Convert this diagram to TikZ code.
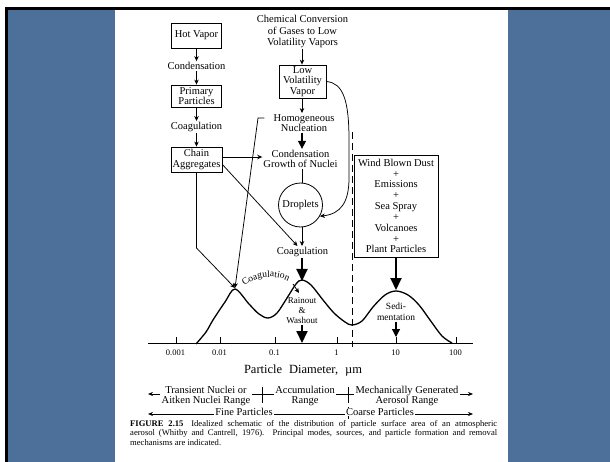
\documentclass[tikz,border=0pt]{standalone}
\usepackage{fontspec}
\setmainfont{Liberation Serif}
\usetikzlibrary{arrows.meta,decorations.text}
\definecolor{slideblue}{RGB}{76,112,153}
\newcommand{\fsz}[2]{\fontsize{#1}{#2}\selectfont}
\begin{document}
\begin{tikzpicture}[x=1pt,y=-1pt,
 lbl/.style={font=\fsz{10.5}{10.5}, align=center, inner sep=1pt},
 bx/.style={draw, line width=0.8pt, font=\fsz{10.5}{10.5}, align=center, inner sep=0pt},
 tarr/.style={line width=0.75pt, -{Stealth[length=5pt,width=4.5pt]}},
 marr/.style={line width=1.2pt, -{Triangle[length=8pt,width=8pt]}},
 barr/.style={line width=2pt, -{Triangle[length=12pt,width=11pt]}},
 plainln/.style={line width=0.75pt},
 rng/.style={font=\fsz{10.5}{9.8}, align=center, fill=white, inner xsep=1.5pt, inner ysep=0pt},
]
% background
\fill[white] (0,0) rectangle (610,462);
\fill[slideblue] (8,10) rectangle (610,462);
\fill[black] (5,7) rectangle (610,10);
\fill[black] (5,7) rectangle (8,462);
\fill[white] (115,10) rectangle (508,462);
\useasboundingbox (0,0) rectangle (610,462);

% left column
\node[bx, minimum width=50pt, minimum height=25pt] (hot) at (196.5,35.5) {Hot Vapor};
\node[lbl] (cond1) at (196.5,66) {Condensation};
\node[bx, minimum width=50pt, minimum height=22pt] (prim) at (196.5,96) {Primary\\Particles};
\node[lbl] (coag1) at (196.5,127) {Coagulation};
\node[bx, minimum width=51pt, minimum height=25pt] (chain) at (196.5,159.5) {Chain\\Aggregates};
\draw[tarr] (hot) -- (cond1);
\draw[tarr] (cond1) -- (prim);
\draw[tarr] (prim) -- (coag1);
\draw[tarr] (coag1) -- (chain);

% centre column
\coordinate (colx) at (302,0);
\node[lbl, font=\fsz{10.5}{11.5}] (chem) at (302.5,31.5) {Chemical Conversion\\of Gases to Low\\Volatility Vapors};
\node[bx, minimum width=47pt, minimum height=33pt] (lvv) at (302.5,81.5) {Low\\Volatility\\Vapor};
\node[lbl] (homo) at (304,123) {Homogeneous\\Nucleation};
\node[lbl] (cgn) at (300.5,159) {Condensation\\Growth of Nuclei};
\node[draw, circle, line width=0.8pt, minimum size=44pt, inner sep=0pt, font=\fsz{10.5}{10.5}] (drop) at (300.5,205) {Droplets};
\node[lbl] (coag2) at (302.5,252) {Coagulation};

\draw[tarr] (colx |- chem.south) -- (colx |- lvv.north);
\draw[tarr] (colx |- lvv.south) -- (colx |- homo.north);
\draw[marr] (colx |- homo.south) -- (colx |- cgn.north);
\draw[plainln] (colx |- cgn.south) -- (colx |- drop.north);
\draw[tarr] (colx |- drop.south) -- (colx |- coag2.north);

% peaks
\coordinate (pk1) at (235,288);
\coordinate (pk2) at (302,281);
\coordinate (pk3) at (396,290);

\draw[barr] (colx |- coag2.south) -- (pk2);

% chain aggregates connectors
\draw[tarr] ([yshift=2.5pt]chain.east) -- ([yshift=2.5pt]chain.east -| cgn.west);
\draw[tarr] ([yshift=-5pt]chain.east) -- ([xshift=-5pt]coag2.north);
\coordinate (cb) at (0,248);
\draw[tarr] (chain.south) -- (chain.south |- cb) -- (pk1);
\coordinate (hh) at (258,118);
\draw[tarr] ([xshift=-8pt,yshift=5pt]homo.west) -- (hh) -- (pk1);

% low volatility vapor to droplets
\draw[tarr] (lvv.east) .. controls (343,83) and (349,100) .. (349,140) -- (349,178) .. controls (349,202) and (341,214) .. (drop.-30);

% wind blown dust
\node[bx, minimum width=84pt, minimum height=102pt, font=\fsz{10.5}{10.85}] (wind) at (396,206) {Wind Blown Dust\\+\\Emissions\\+\\Sea Spray\\+\\Volcanoes\\+\\Plant Particles};
\draw[barr] (wind.south) -- (pk3);

% dashed divider
\coordinate (d1) at (352,132);
\coordinate (d2) at (352,347);
\draw[line width=0.7pt, dash pattern=on 7pt off 4pt] (d1) -- (d2);

% axis
\coordinate (axL) at (148,343);
\coordinate (axR) at (473,343);
\draw[line width=0.9pt] (axL) -- (axR);
\foreach \x/\t in {176/0.001,220/0.01,275/0.1,337/1,396/10,456/100} {
  \draw[line width=0.7pt] (\x,343) -- (\x,337);
  \node[font=\fsz{8.5}{8.5}, inner sep=0pt] (tk\x) at (\x-0.5,353) {\t};
}
\node[font=\fsz{12.5}{12.5}, inner sep=0pt] (pd) at (303,370) {Particle\hspace{0.55em}Diameter,\hspace{0.55em}µm};

% distribution curve
\draw[line width=1.3pt, line join=round] plot[smooth, tension=0.55] coordinates {
 (196,344) (206,332) (213,320) (225,302) (235,289) (249,304) (259,314) (268,318)
 (277,313) (287,298) (296,284) (302,280) (311,285) (323,300) (334,313) (345,322)
 (352,325) (362,321) (373,307) (385,295) (396,291) (408,295) (419,305) (430,320)
 (442,336) (452,343)};

% coagulation arc
\coordinate (ca1) at (241,290);
\coordinate (ca2) at (293,284);
\coordinate (ca3) at (299,293);
\path[decorate, decoration={text along path, text={|\fsz{9.5}{9.5}|Coagulation}, text align=center}]
  (ca1) .. controls (252,275) and (278,273) .. (ca2);
\draw[tarr] (ca2) -- (ca3);

% removal labels
\node[lbl, font=\fsz{9}{10}] (rain) at (302,311) {Rainout\\\&\\Washout};
\draw[barr] (colx |- rain.south) -- (colx |- axL);
\node[lbl, font=\fsz{9.5}{10.5}] (sedi) at (396,312) {Sedi-\\mentation};
\coordinate (st) at (0,337);
\draw[marr] (sedi.south) -- (sedi.south |- st);

% size ranges
\coordinate (r1L) at (148,394);
\coordinate (r1R) at (473,394);
\draw[line width=0.7pt, {Stealth[length=5pt,width=4pt]}-{Stealth[length=5pt,width=4pt]}] (r1L) -- (r1R);
\draw[line width=0.7pt] (262,387) -- (262,403);
\draw[line width=0.7pt] (348,387) -- (348,403);
\node[rng] (tn) at (206,396) {Transient Nuclei or\\Aitken Nuclei Range};
\node[rng] (acc) at (305,396) {Accumulation\\Range};
\node[rng] (mech) at (407,396) {Mechanically Generated\\Aerosol Range};

\coordinate (r2L) at (148,414);
\coordinate (r2R) at (473,414);
\draw[line width=0.7pt, {Stealth[length=5pt,width=4pt]}-{Stealth[length=5pt,width=4pt]}] (r2L) -- (r2R);
\draw[line width=0.7pt] (348,407) -- (348,419);
\node[rng] (fine) at (244,412) {Fine Particles};
\node[rng] (coarse) at (380,412) {Coarse Particles};

% caption
\node[anchor=west, inner sep=0pt, font=\fsz{8.6}{9}] (cap1) at (130,424) {\makebox[367pt][s]{\textbf{FIGURE 2.15}\hspace{0.9em}Idealized schematic of the distribution of particle surface area of an atmospheric}};
\node[anchor=west, inner sep=0pt, font=\fsz{8.6}{9}] (cap2) at (130,433.5) {\makebox[367pt][s]{aerosol (Whitby and Cantrell, 1976). Principal modes, sources, and particle formation and removal}};
\node[anchor=west, inner sep=0pt, font=\fsz{8.6}{9}] (cap3) at (130,443) {mechanisms are indicated.};
\end{tikzpicture}
\end{document}
